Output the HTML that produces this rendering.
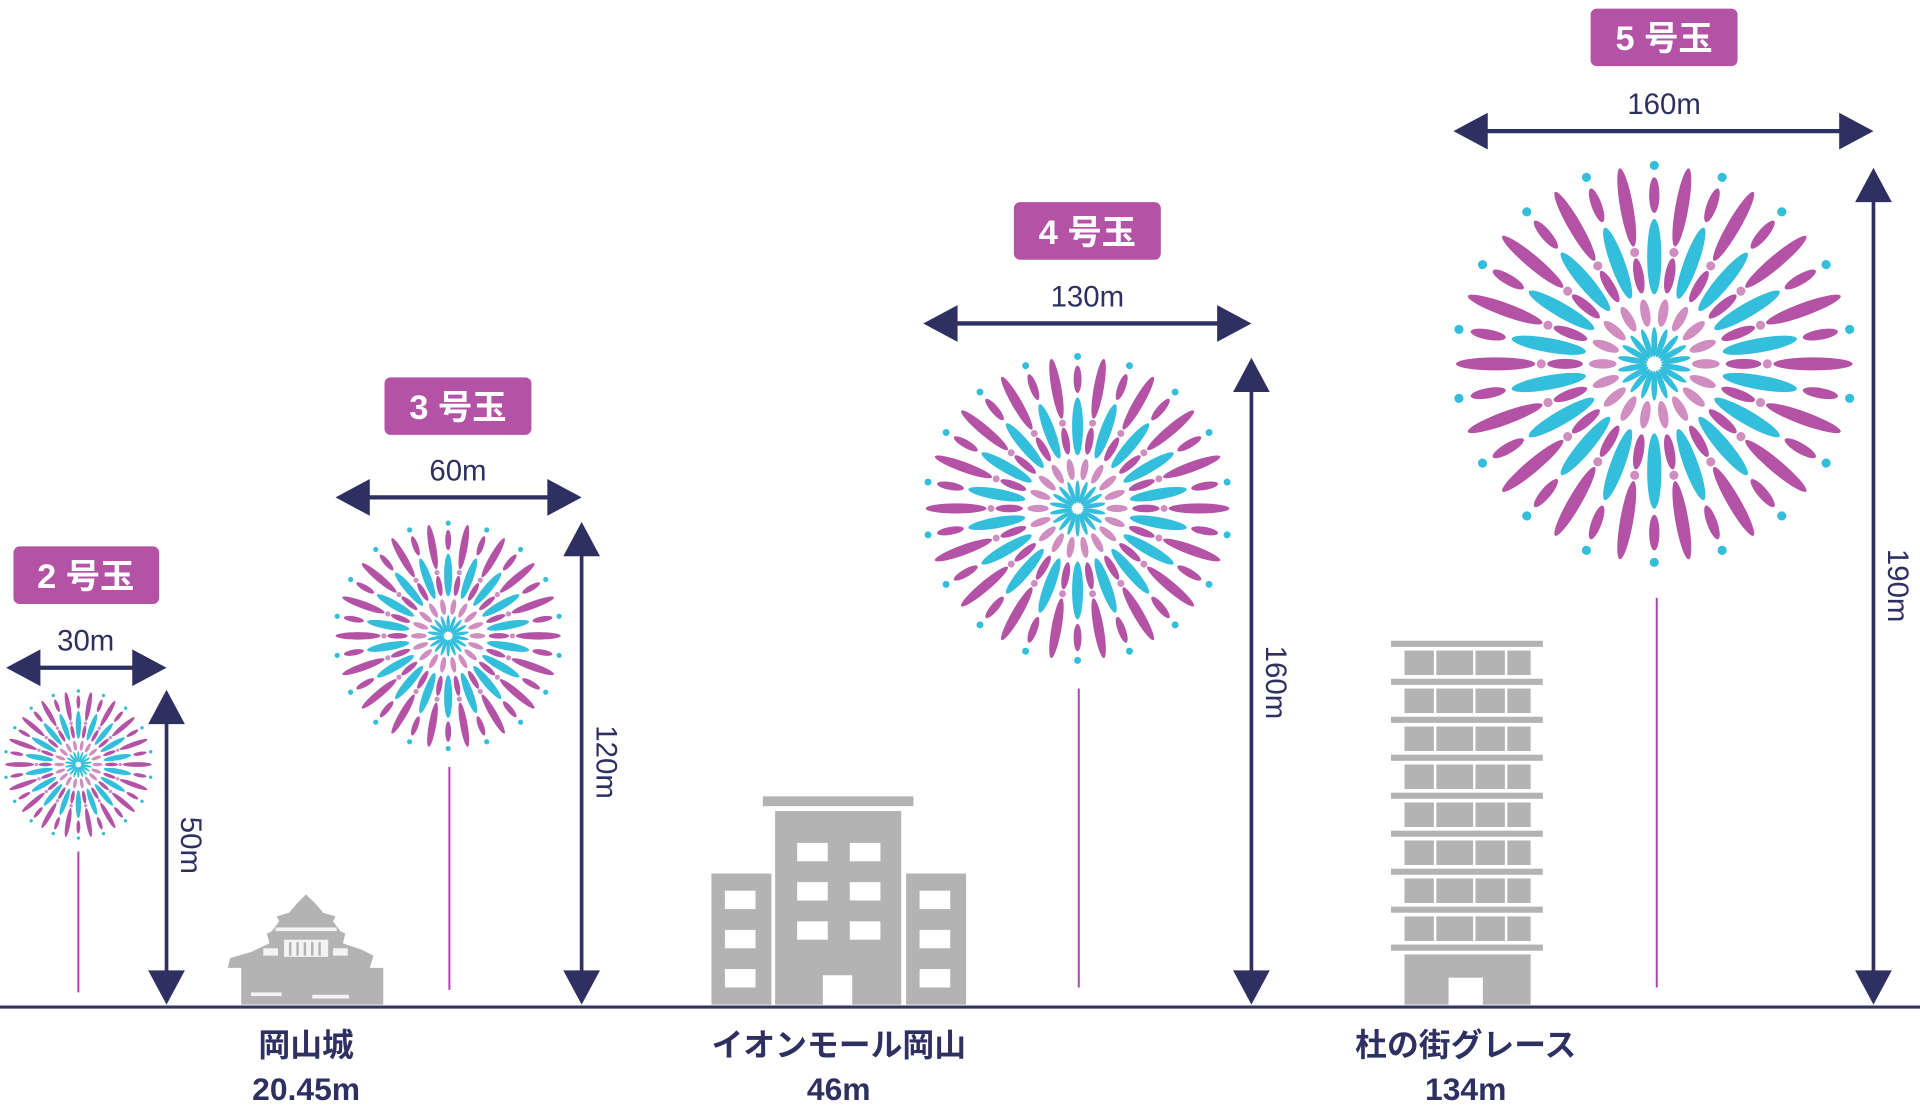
<!DOCTYPE html>
<html><head><meta charset="utf-8">
<style>
html,body{margin:0;padding:0;background:#fff;}
svg{display:block;}
text{font-family:"Liberation Sans","Noto Sans CJK JP",sans-serif;}
</style></head>
<body>
<svg width="1920" height="1110" viewBox="0 0 1568 906" preserveAspectRatio="none" xmlns="http://www.w3.org/2000/svg">
<defs>
  <g id="re">
    <circle cx="0" cy="-100" r="2.3" fill="#33bedb"/>
    <ellipse cx="0" cy="-85" rx="2.6" ry="9" fill="#b453a6"/>
    <ellipse cx="0" cy="-54" rx="3.6" ry="19" fill="#33bedb"/>
    <ellipse cx="0" cy="-11" rx="1.5" ry="7.5" fill="#33bedb"/>
  </g>
  <g id="ro">
    <ellipse cx="0" cy="-80" rx="3.3" ry="20" fill="#b453a6"/>
    <circle cx="0" cy="-57" r="2.3" fill="#d08ec0"/>
    <ellipse cx="0" cy="-45" rx="2.5" ry="9" fill="#b453a6"/>
    <ellipse cx="0" cy="-26" rx="2.4" ry="7" fill="#d08ec0"/>
  </g>
  <g id="fw">
    <use href="#re" transform="rotate(0)"/><use href="#re" transform="rotate(20)"/><use href="#re" transform="rotate(40)"/>
    <use href="#re" transform="rotate(60)"/><use href="#re" transform="rotate(80)"/><use href="#re" transform="rotate(100)"/>
    <use href="#re" transform="rotate(120)"/><use href="#re" transform="rotate(140)"/><use href="#re" transform="rotate(160)"/>
    <use href="#re" transform="rotate(180)"/><use href="#re" transform="rotate(200)"/><use href="#re" transform="rotate(220)"/>
    <use href="#re" transform="rotate(240)"/><use href="#re" transform="rotate(260)"/><use href="#re" transform="rotate(280)"/>
    <use href="#re" transform="rotate(300)"/><use href="#re" transform="rotate(320)"/><use href="#re" transform="rotate(340)"/>
    <use href="#ro" transform="rotate(10)"/><use href="#ro" transform="rotate(30)"/><use href="#ro" transform="rotate(50)"/>
    <use href="#ro" transform="rotate(70)"/><use href="#ro" transform="rotate(90)"/><use href="#ro" transform="rotate(110)"/>
    <use href="#ro" transform="rotate(130)"/><use href="#ro" transform="rotate(150)"/><use href="#ro" transform="rotate(170)"/>
    <use href="#ro" transform="rotate(190)"/><use href="#ro" transform="rotate(210)"/><use href="#ro" transform="rotate(230)"/>
    <use href="#ro" transform="rotate(250)"/><use href="#ro" transform="rotate(270)"/><use href="#ro" transform="rotate(290)"/>
    <use href="#ro" transform="rotate(310)"/><use href="#ro" transform="rotate(330)"/><use href="#ro" transform="rotate(350)"/>
  </g>
</defs>

<line x1="0" y1="822" x2="1568" y2="822" stroke="#33345f" stroke-width="2.5"/>

<g fill="#2f3062" stroke="#2f3062">
<line x1="25" y1="545" x2="116" y2="545" stroke-width="3.5"/>
<polygon points="5,545 33,530 33,560" stroke="none"/>
<polygon points="136,545 108,530 108,560" stroke="none"/>
<line x1="136" y1="585" x2="136" y2="800" stroke-width="3"/>
<polygon points="136,563 121,591 151,591" stroke="none"/>
<polygon points="136,820 121,792 151,792" stroke="none"/>
<line x1="295" y1="406" x2="454" y2="406" stroke-width="3.5"/>
<polygon points="274,406 302,391 302,421" stroke="none"/>
<polygon points="475,406 447,391 447,421" stroke="none"/>
<line x1="475" y1="448" x2="475" y2="800" stroke-width="3"/>
<polygon points="475,426 460,454 490,454" stroke="none"/>
<polygon points="475,820 460,792 490,792" stroke="none"/>
<line x1="775" y1="264" x2="1001" y2="264" stroke-width="3.5"/>
<polygon points="754,264 782,249 782,279" stroke="none"/>
<polygon points="1022,264 994,249 994,279" stroke="none"/>
<line x1="1022" y1="314" x2="1022" y2="800" stroke-width="3"/>
<polygon points="1022,292 1007,320 1037,320" stroke="none"/>
<polygon points="1022,820 1007,792 1037,792" stroke="none"/>
<line x1="1208" y1="107" x2="1509" y2="107" stroke-width="3.5"/>
<polygon points="1187,107 1215,92 1215,122" stroke="none"/>
<polygon points="1530,107 1502,92 1502,122" stroke="none"/>
<line x1="1530" y1="159" x2="1530" y2="800" stroke-width="3"/>
<polygon points="1530,137 1515,165 1545,165" stroke="none"/>
<polygon points="1530,820 1515,792 1545,792" stroke="none"/>
</g>

<g fill="#2f3062" font-size="24" text-anchor="middle">
<text x="70" y="531">30m</text>
<text x="374" y="392">60m</text>
<text x="888" y="250">130m</text>
<text x="1359" y="93">160m</text>
<text transform="translate(148,690) rotate(90)">50m</text>
<text transform="translate(487,622) rotate(90)">120m</text>
<text transform="translate(1034,557) rotate(90)">160m</text>
<text transform="translate(1542,478) rotate(90)">190m</text>
</g>

<g fill="#b453a6">
<rect x="11" y="446" width="119" height="47" rx="5"/>
<rect x="314" y="308" width="120" height="47" rx="5"/>
<rect x="828" y="165" width="120" height="47" rx="5"/>
<rect x="1299" y="7" width="120" height="47" rx="5"/>
</g>
<g fill="#fff" font-size="28" font-weight="bold" text-anchor="middle">
<text x="70" y="480">2 号玉</text>
<text x="374" y="342">3 号玉</text>
<text x="888" y="199">4 号玉</text>
<text x="1359" y="41">5 号玉</text>
</g>

<g stroke="#b03fb0" stroke-width="1.6">
<line x1="64" y1="695" x2="64" y2="810"/>
<line x1="367" y1="626" x2="367" y2="808"/>
<line x1="881" y1="562" x2="881" y2="806"/>
<line x1="1353" y1="488" x2="1353" y2="806"/>
</g>

<use href="#fw" transform="translate(64,624) scale(0.6)"/>
<use href="#fw" transform="translate(366,519) scale(0.92)"/>
<use href="#fw" transform="translate(880,415) scale(1.24)"/>
<use href="#fw" transform="translate(1351,297) scale(1.62)"/>

<g fill="#b3b3b3">
<polygon points="197,820 197,790 186,790 188,782 205,777 220,770 218,762 222,760 228,752 226,748 236,745 242,738 250,730 258,738 264,745 274,748 272,752 278,760 282,762 280,770 295,775 305,780 302,790 313,790 313,820"/>
</g>
<g fill="#fff" opacity="0.85">
<rect x="232" y="767" width="36" height="14"/>
<rect x="215" y="774" width="12" height="6"/>
<rect x="272" y="774" width="12" height="6"/>
<rect x="225" y="757" width="50" height="3"/>
<rect x="205" y="810" width="25" height="3"/>
<rect x="255" y="812" width="30" height="3"/>
</g>
<g fill="#b3b3b3">
<rect x="236" y="769" width="2" height="11"/><rect x="242" y="769" width="2" height="11"/><rect x="248" y="769" width="2" height="11"/><rect x="254" y="769" width="2" height="11"/><rect x="260" y="769" width="2" height="11"/>
</g>

<g fill="#b3b3b3">
<rect x="623" y="650" width="123" height="8"/>
<rect x="633" y="662" width="103" height="158"/>
<rect x="581" y="713" width="49" height="107"/>
<rect x="740" y="713" width="49" height="107"/>
</g>
<g fill="#fff">
<rect x="651" y="688" width="25" height="15"/><rect x="694" y="688" width="25" height="15"/>
<rect x="651" y="720" width="25" height="15"/><rect x="694" y="720" width="25" height="15"/>
<rect x="651" y="752" width="25" height="15"/><rect x="694" y="752" width="25" height="15"/>
<rect x="672" y="796" width="24" height="24"/>
<rect x="592" y="727" width="25" height="15"/><rect x="592" y="759" width="25" height="15"/><rect x="592" y="791" width="25" height="15"/>
<rect x="751" y="727" width="25" height="15"/><rect x="751" y="759" width="25" height="15"/><rect x="751" y="791" width="25" height="15"/>
</g>

<g fill="#b3b3b3">
<rect x="1136" y="523" width="124" height="5"/>
<rect x="1136" y="554" width="124" height="5"/>
<rect x="1136" y="585" width="124" height="5"/>
<rect x="1136" y="616" width="124" height="5"/>
<rect x="1136" y="647" width="124" height="5"/>
<rect x="1136" y="678" width="124" height="5"/>
<rect x="1136" y="709" width="124" height="5"/>
<rect x="1136" y="740" width="124" height="5"/>
<rect x="1136" y="771" width="124" height="5"/>
<rect x="1147" y="779" width="103" height="41"/>
</g>
<g fill="#b3b3b3">
<g id="fl"><rect x="1147" y="531" width="24" height="20"/><rect x="1173" y="531" width="30" height="20"/><rect x="1205" y="531" width="24" height="20"/><rect x="1231" y="531" width="19" height="20"/></g>
<use href="#fl" y="31"/><use href="#fl" y="62"/><use href="#fl" y="93"/><use href="#fl" y="124"/><use href="#fl" y="155"/><use href="#fl" y="186"/><use href="#fl" y="217"/>
</g>
<rect x="1183" y="798" width="28" height="22" fill="#fff"/>

<g fill="#2f3062" font-size="26" font-weight="bold" text-anchor="middle">
<text x="250" y="862">岡山城</text>
<text x="250" y="898">20.45m</text>
<text x="685" y="862">イオンモール岡山</text>
<text x="685" y="898">46m</text>
<text x="1197" y="862">杜の街グレース</text>
<text x="1197" y="898">134m</text>
</g>
</svg>
</body></html>
